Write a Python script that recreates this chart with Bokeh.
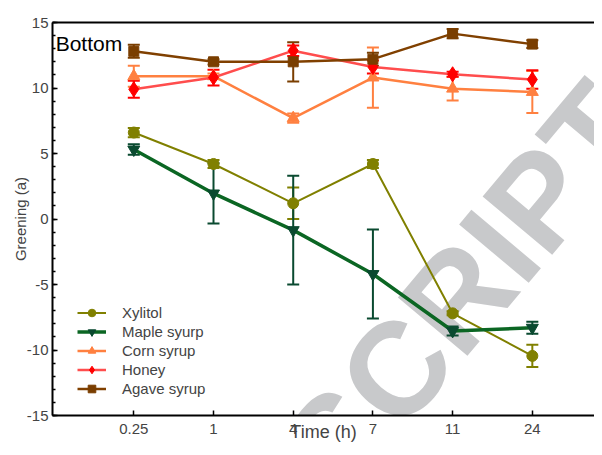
from bokeh.plotting import figure
from bokeh.models import (ColumnDataSource, Whisker, TeeHead, FixedTicker, LinearAxis,
                          Legend, LegendItem, Label, Range1d)
from bokeh.embed import file_html
from bokeh.resources import INLINE

# ---- data ----
times = ["0.25", "1", "4", "7", "11", "24"]

xylitol = [6.6, 4.2, 1.2, 4.2, -7.2, -10.45]
xylitol_err = [0.35, 0.3, 1.2, 0.3, 0.15, 0.85]

maple = [5.3, 1.95, -0.85, -4.2, -8.55, -8.3]
maple_err = [0.4, 2.3, 4.15, 3.4, 0.35, 0.45]

corn = [10.9, 10.9, 7.7, 10.8, 9.95, 9.7]
corn_err = [0.8, 0.2, 0.35, 2.3, 0.9, 1.6]

honey = [9.9, 10.8, 12.85, 11.6, 11.05, 10.65]
honey_err = [0.65, 0.6, 0.4, 0.5, 0.2, 0.7]

agave = [12.8, 12.0, 12.0, 12.2, 14.15, 13.35]
agave_err = [0.5, 0.2, 1.5, 0.5, 0.35, 0.3]

y_ticks = [-15, -10, -5, 0, 5, 10, 15]

FONT = "Liberation Sans"

xpos = list(range(1, len(times) + 1))

p = figure(width=594, height=447, output_backend="svg", toolbar_location=None,
           x_range=Range1d(-0.02, 6.78), y_range=Range1d(-15, 15),
           min_border_left=52, min_border_right=0, min_border_top=22, min_border_bottom=32)
p.outline_line_color = None
p.grid.visible = False

# watermark (underlay)
wm = Label(x=5.15, y=-5.3, text="SCRIPT", angle=50, angle_units="deg",
           text_align="center", text_baseline="middle", text_font=FONT,
           text_font_style="bold", text_font_size="132px", text_color="#C8C9CB",
           level="underlay")
p.add_layout(wm)

series = [
    ("Xylitol", xylitol, xylitol_err, "#808000", "#808000", 2, "circle", 11),
    ("Maple syurp", maple, maple_err, "#0B6623", "#0A4A30", 3.5, "inverted_triangle", 12),
    ("Corn syrup", corn, corn_err, "#FF8040", "#FF8040", 2.5, "triangle", 12),
    ("Honey", honey, honey_err, "#FF4D4D", "#FF0000", 2.5, "diamond", 15),
    ("Agave syrup", agave, agave_err, "#804000", "#7A3E00", 2.5, "square", 10),
]

items = []
for name, vals, errs, lc, mc, lw, marker, size in series:
    src = ColumnDataSource(dict(x=xpos, y=vals,
                                upper=[v + e for v, e in zip(vals, errs)],
                                lower=[v - e for v, e in zip(vals, errs)]))
    w = Whisker(source=src, base="x", upper="upper", lower="lower",
                line_color=mc, line_width=2,
                upper_head=TeeHead(size=12, line_color=mc, line_width=2),
                lower_head=TeeHead(size=12, line_color=mc, line_width=2))
    p.add_layout(w)
    lr = p.line("x", "y", source=src, line_color=lc, line_width=lw)
    sr = p.scatter("x", "y", source=src, marker=marker, size=size,
                   fill_color=mc, line_color=mc)
    items.append(LegendItem(label=name, renderers=[lr, sr]))

legend = Legend(items=items, location=(25, 17), border_line_color=None,
                background_fill_alpha=0, padding=0, margin=0, spacing=0,
                glyph_width=29, glyph_height=19, label_height=19, label_standoff=16,
                label_text_font_size="15px", label_text_font=FONT)
p.add_layout(legend)

p.add_layout(Label(x=0.02, y=13.4, text="Bottom", text_font=FONT, text_font_size="21px",
                   text_align="left", text_baseline="alphabetic", text_color="black"))

# x axis
xa = p.xaxis[0]
xa.ticker = FixedTicker(ticks=xpos)
xa.major_label_overrides = {i: t for i, t in zip(xpos, times)}
xa.major_tick_in = 5
xa.major_tick_out = 0
xa.minor_tick_line_color = None
xa.axis_line_width = 2
xa.major_tick_line_width = 1.5
xa.major_label_text_font = FONT
xa.major_label_text_font_size = "15px"
xa.major_label_standoff = 8
xa.axis_label = "Time (h)"
xa.axis_label_text_font = FONT
xa.axis_label_text_font_size = "18px"
xa.axis_label_text_font_style = "normal"
xa.axis_label_standoff = -15

# y axis
ya = p.yaxis[0]
ya.ticker = FixedTicker(ticks=y_ticks, minor_ticks=list(range(-15, 16)))
ya.major_label_overrides = {v: str(v) for v in y_ticks}
ya.major_tick_in = 5
ya.major_tick_out = 0
ya.minor_tick_in = 3
ya.minor_tick_out = 0
ya.axis_line_width = 2
ya.major_tick_line_width = 1.5
ya.minor_tick_line_width = 1.5
ya.major_label_text_font = FONT
ya.major_label_text_font_size = "15px"
ya.major_label_standoff = 4
ya.axis_label = "Greening (a)"
ya.axis_label_text_font = FONT
ya.axis_label_text_font_size = "15px"
ya.axis_label_text_font_style = "normal"
ya.axis_label_standoff = -5

# top frame line
top = LinearAxis(ticker=FixedTicker(ticks=[]), major_tick_line_color=None,
                 minor_tick_line_color=None, axis_line_width=2)
p.add_layout(top, "above")

open("out.html", "w").write(file_html(p, INLINE))
